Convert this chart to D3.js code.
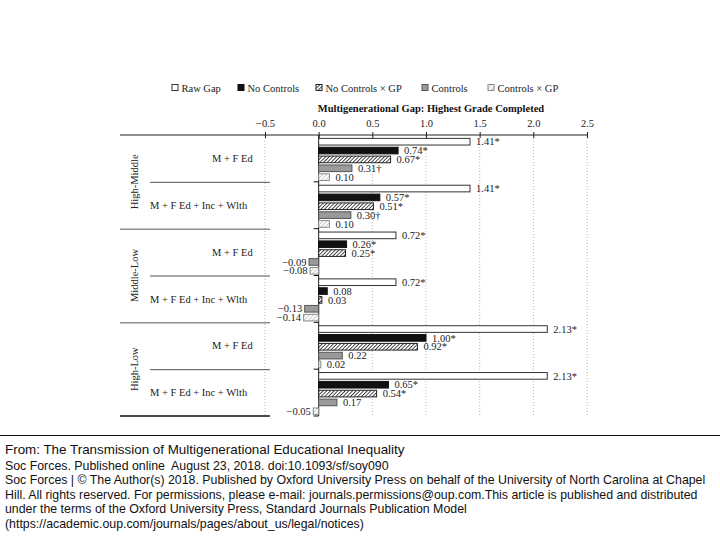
<!DOCTYPE html>
<html>
<head>
<meta charset="utf-8">
<script src="https://cdn.jsdelivr.net/npm/d3@7"></script>
<style>
  html, body { margin: 0; padding: 0; background: #fff; }
  svg { display: block; }
</style>
</head>
<body>
<svg id="chart" width="720" height="540"></svg>
<script>
// ---------------- DATA ----------------
const groups = ["High-Middle", "Middle-Low", "High-Low"];
const models = ["M + F Ed", "M + F Ed + Inc + Wlth"];
const seriesNames = ["Raw Gap", "No Controls", "No Controls × GP", "Controls", "Controls × GP"];

// one value per row: HM-1, HM-2, ML-1, ML-2, HL-1, HL-2
const rawGap       = [1.41, 1.41, 0.72, 0.72, 2.13, 2.13];
const noControls   = [0.74, 0.57, 0.26, 0.08, 1.00, 0.65];
const noControlsGP = [0.67, 0.51, 0.25, 0.03, 0.92, 0.54];
const controls     = [0.31, 0.30, -0.09, -0.13, 0.22, 0.17];
const controlsGP   = [0.10, 0.10, -0.08, -0.14, 0.02, -0.05];

const rawGapSig       = ["*", "*", "*", "*", "*", "*"];
const noControlsSig   = ["*", "*", "*", "", "*", "*"];
const noControlsGPSig = ["*", "*", "*", "", "*", "*"];
const controlsSig     = ["†", "†", "", "", "", ""];
const controlsGPSig   = ["", "", "", "", "", ""];

const xTicks = [-0.5, 0, 0.5, 1.0, 1.5, 2.0, 2.5];
const axisTitle = "Multigenerational Gap: Highest Grade Completed";

const footerLines = [
  "From: The Transmission of Multigenerational Educational Inequality",
  "Soc Forces. Published online  August 23, 2018. doi:10.1093/sf/soy090",
  "Soc Forces | © The Author(s) 2018. Published by Oxford University Press on behalf of the University of North Carolina at Chapel",
  "Hill. All rights reserved. For permissions, please e-mail: journals.permissions@oup.com.This article is published and distributed",
  "under the terms of the Oxford University Press, Standard Journals Publication Model",
  "(https://academic.oup.com/journals/pages/about_us/legal/notices)"
];

// ---------------- BUILD ----------------
const seriesValues = [rawGap, noControls, noControlsGP, controls, controlsGP];
const seriesSig = [rawGapSig, noControlsSig, noControlsGPSig, controlsSig, controlsGPSig];

const rows = [];
groups.forEach((g, gi) => models.forEach((m, mi) => rows.push({group: g, model: m, gi, mi, idx: gi * models.length + mi})));

const bars = [];
rows.forEach(r => seriesNames.forEach((s, si) => bars.push({
  row: r.idx, series: s, si, value: seriesValues[si][r.idx], sig: seriesSig[si][r.idx]
})));

const svg = d3.select("#chart");
const serif = "'Liberation Serif', 'Times New Roman', serif";
const sans = "'Liberation Sans', Arial, sans-serif";

// patterns
const defs = svg.append("defs");
const p1 = defs.append("pattern").attr("id", "hatchDark").attr("patternUnits", "userSpaceOnUse")
  .attr("width", 2.6).attr("height", 2.6).attr("patternTransform", "rotate(45)");
p1.append("rect").attr("width", 2.6).attr("height", 2.6).attr("fill", "#fff");
p1.append("line").attr("x1", 0).attr("y1", 0).attr("x2", 0).attr("y2", 2.6).attr("stroke", "#111").attr("stroke-width", 1.5);
const p2 = defs.append("pattern").attr("id", "hatchLight").attr("patternUnits", "userSpaceOnUse")
  .attr("width", 3).attr("height", 3).attr("patternTransform", "rotate(45)");
p2.append("rect").attr("width", 3).attr("height", 3).attr("fill", "#fff");
p2.append("line").attr("x1", 0).attr("y1", 0).attr("x2", 0).attr("y2", 3).attr("stroke", "#999").attr("stroke-width", 1);

const fills = ["#ffffff", "#111111", "url(#hatchDark)", "#9a9a9a", "url(#hatchLight)"];
const strokes = ["#333", "#111", "#222", "#555", "#888"];

// scales
const x = d3.scaleLinear().domain([-0.5, 2.5]).range([265, 587]);
const plotTop = 135, plotBottom = 416;
const yRow = d3.scaleBand().domain(rows.map(r => r.idx)).range([plotTop, plotBottom]).padding(0);
const rowH = yRow.bandwidth();
const yInner = d3.scaleBand().domain(seriesNames).range([2.5, rowH - 0.5]).paddingInner(0.25).paddingOuter(0.1);

const leftX = 120, subLeftX = 150, leftRight = 270;

// gridlines
svg.append("g").selectAll("line").data(xTicks.filter(t => t !== 0)).join("line")
  .attr("x1", d => x(d)).attr("x2", d => x(d))
  .attr("y1", plotTop).attr("y2", plotBottom)
  .attr("stroke", "#b5b5b5").attr("stroke-width", 1).attr("stroke-dasharray", "1,2");

// top axis
const axisG = svg.append("g").attr("transform", `translate(0,${plotTop})`)
  .call(d3.axisTop(x).tickValues(xTicks).tickFormat(d3.format(".1f")).tickSize(3).tickPadding(5));
axisG.select(".domain").remove();
axisG.selectAll(".tick line").attr("y1", 3).attr("y2", -3).attr("stroke", "#222");
axisG.selectAll(".tick text").attr("font-family", serif).attr("font-size", 10.5).attr("fill", "#222");
svg.append("line").attr("x1", leftX).attr("x2", x(2.5)).attr("y1", plotTop).attr("y2", plotTop)
  .attr("stroke", "#222").attr("stroke-width", 1);

// axis title
svg.append("text").attr("x", 431).attr("y", 112)
  .attr("text-anchor", "middle").attr("font-family", serif).attr("font-size", 10.5)
  .attr("font-weight", "bold").attr("fill", "#111").text(axisTitle);

// left-side separators
const rowBoundaries = rows.slice(1).map(r => r.idx);
svg.append("g").selectAll("line").data(rowBoundaries).join("line")
  .attr("x1", d => (d % models.length === 0) ? leftX : subLeftX)
  .attr("x2", leftRight)
  .attr("y1", d => yRow(d) + 0.5).attr("y2", d => yRow(d) + 0.5)
  .attr("stroke", "#555").attr("stroke-width", 1);
svg.append("line").attr("x1", leftX).attr("x2", leftRight).attr("y1", plotBottom).attr("y2", plotBottom)
  .attr("stroke", "#111").attr("stroke-width", 1.5);

// zero line with row ticks
svg.append("line").attr("x1", x(0)).attr("x2", x(0)).attr("y1", plotTop).attr("y2", plotBottom)
  .attr("stroke", "#111").attr("stroke-width", 1);
svg.append("g").selectAll("line").data(rowBoundaries.map(d => yRow(d)).concat([plotBottom])).join("line")
  .attr("x1", x(0) - 5).attr("x2", x(0)).attr("y1", d => d).attr("y2", d => d)
  .attr("stroke", "#111").attr("stroke-width", 1);

// bars
svg.append("g").selectAll("rect").data(bars).join("rect")
  .attr("x", d => x(Math.min(0, d.value)))
  .attr("width", d => Math.abs(x(d.value) - x(0)))
  .attr("y", d => yRow(d.row) + yInner(d.series))
  .attr("height", yInner.bandwidth())
  .attr("fill", d => fills[d.si])
  .attr("stroke", d => strokes[d.si]).attr("stroke-width", 1);

// value labels
const fmt = d3.format(".2f");
svg.append("g").selectAll("text").data(bars).join("text")
  .attr("x", d => d.value >= 0 ? x(d.value) + 6 : x(d.value) - 2.5)
  .attr("y", d => yRow(d.row) + yInner(d.series) + yInner.bandwidth() / 2)
  .attr("dy", "0.35em")
  .attr("text-anchor", d => d.value >= 0 ? "start" : "end")
  .attr("font-family", serif).attr("font-size", 10.5).attr("fill", "#222")
  .text(d => fmt(d.value) + d.sig);

// row labels
const modelX = [212, 150];
svg.append("g").selectAll("text").data(rows).join("text")
  .attr("x", d => modelX[d.mi])
  .attr("y", d => yRow(d.idx) + rowH / 2)
  .attr("dy", "0.35em")
  .attr("font-family", serif).attr("font-size", 10.5).attr("fill", "#222")
  .text(d => d.model);

// group labels
svg.append("g").selectAll("text").data(groups).join("text")
  .attr("transform", (d, i) => {
    const cy = (yRow(i * models.length) + yRow(i * models.length + models.length - 1) + rowH) / 2;
    return `translate(138,${cy}) rotate(-90)`;
  })
  .attr("text-anchor", "middle")
  .attr("font-family", serif).attr("font-size", 10.5).attr("fill", "#222")
  .text(d => d);

// legend
const legendX = [172, 238, 316, 422, 488];
const legendY = 88;
const lg = svg.append("g").selectAll("g").data(seriesNames).join("g")
  .attr("transform", (d, i) => `translate(${legendX[i]},${legendY})`);
lg.append("rect").attr("x", 0).attr("y", -3.5).attr("width", 6).attr("height", 6)
  .attr("fill", (d, i) => fills[i]).attr("stroke", (d, i) => strokes[i]).attr("stroke-width", 1);
lg.append("text").attr("x", 9.5).attr("y", 0).attr("dy", "0.35em")
  .attr("font-family", serif).attr("font-size", 10.5).attr("fill", "#222").text(d => d);

// footer
svg.append("line").attr("x1", 0).attr("x2", 720).attr("y1", 435.5).attr("y2", 435.5)
  .attr("stroke", "#111").attr("stroke-width", 1);
svg.append("g").selectAll("text").data(footerLines).join("text")
  .attr("x", 5)
  .attr("y", (d, i) => i === 0 ? 454 : 455 + i * 14.6)
  .attr("font-family", sans)
  .attr("font-size", (d, i) => i === 0 ? 13.4 : 12.35)
  .attr("fill", "#111")
  .style("white-space", "pre")
  .text(d => d);
</script>
</body>
</html>
